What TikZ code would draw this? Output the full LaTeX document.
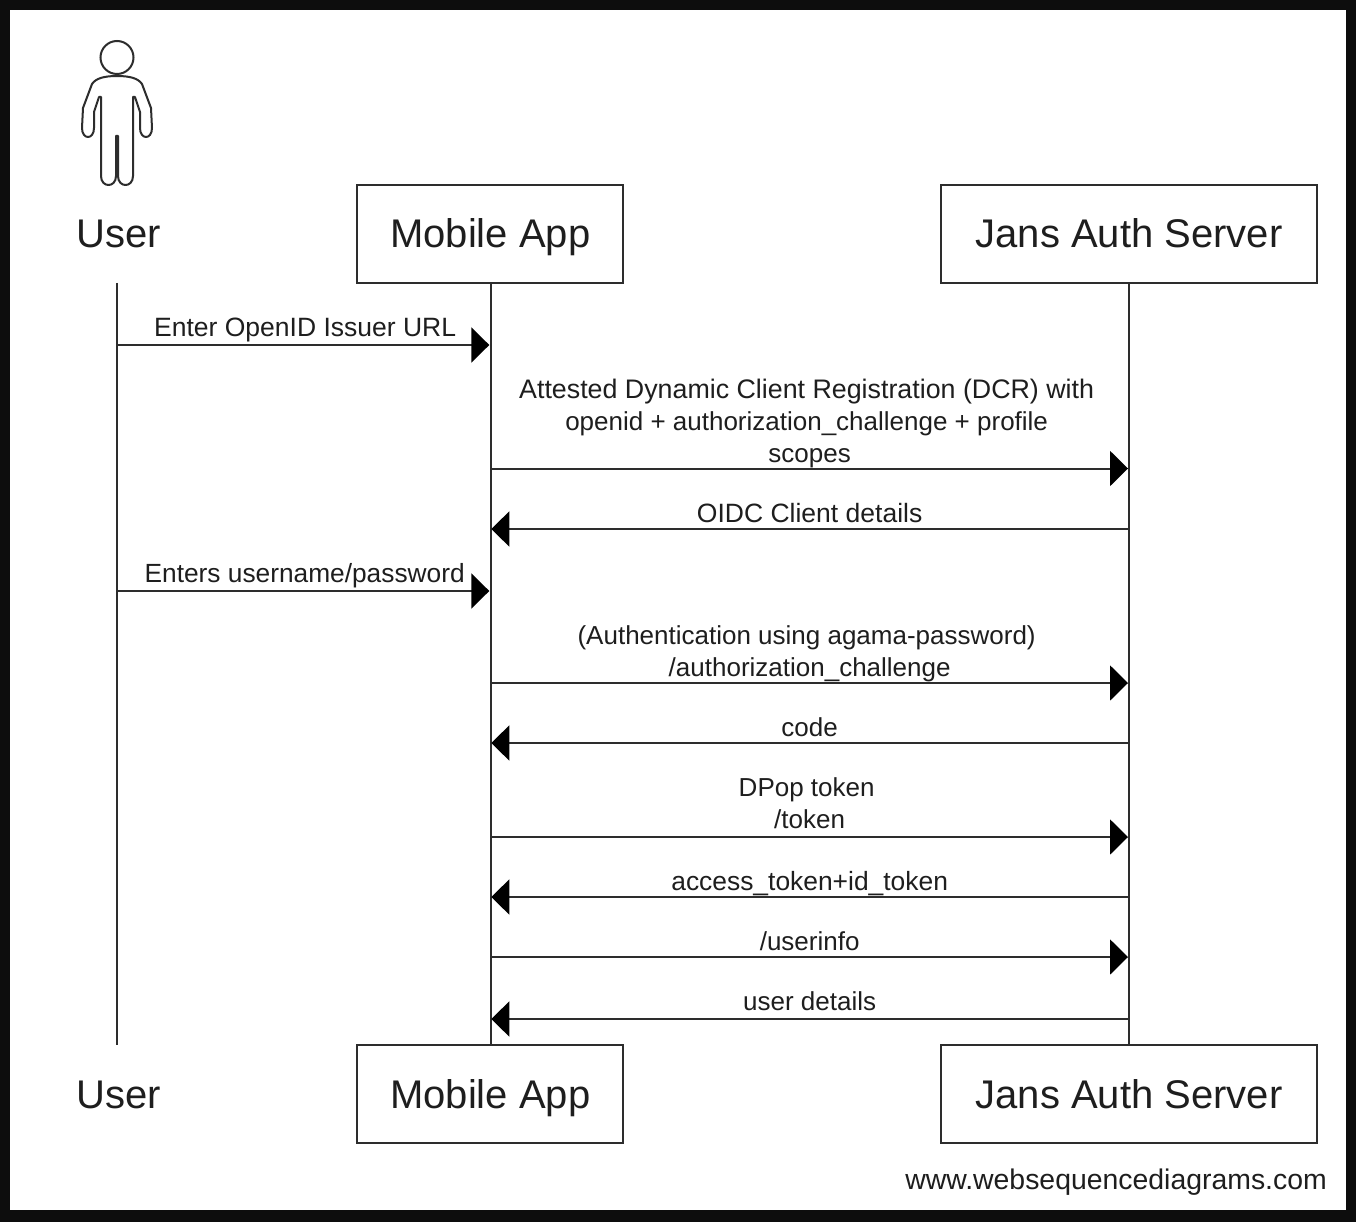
\documentclass[tikz,border=0pt]{standalone}
\usepackage{fontspec}
\setmainfont{Liberation Sans}
\usepackage{xcolor}
\usetikzlibrary{arrows.meta, positioning}
\definecolor{wsdline}{RGB}{45,45,45}
\definecolor{wsdtext}{RGB}{30,30,30}
\definecolor{wsdframe}{RGB}{13,13,13}
\newcommand{\wideline}{\fontsize{26.8}{32}\selectfont}
\tikzset{
  actorbox/.style  = {rectangle, draw=wsdline, line width=2pt, fill=white, text=wsdtext,
                      align=center, minimum height=98pt, outer sep=0pt, inner sep=0pt,
                      text height=33pt, text depth=5pt, font=\fontsize{40}{48}\selectfont},
  actorname/.style = {rectangle, text=wsdtext, align=center, minimum height=98pt,
                      outer sep=0pt, inner sep=0pt, text height=33pt, text depth=5pt,
                      font=\fontsize{40}{48}\selectfont},
  lifeline/.style  = {line width=2pt, draw=wsdline},
  flow/.style      = {-{Triangle[length=18pt, width=35pt, color=black]}, line width=2pt,
                      draw=wsdline, shorten >=1pt},
  flowlab/.style   = {font=\fontsize{26}{32}\selectfont, text=wsdtext, align=center,
                      anchor=south, inner sep=0pt, text depth=8pt},
  flowlow/.style   = {flowlab, text depth=6pt},
}

\begin{document}
\begin{tikzpicture}[x=1pt, y=-1pt]
  \useasboundingbox (0,0) rectangle (1356,1222);
  \fill[wsdframe] (0,0) rectangle (1356,1222);
  \fill[white] (10,10) rectangle (1346,1210);

  % top row
  \node[actorname] (userTop) at (117,234) {\kern3pt User};
  \node[actorbox, minimum width=266pt] (appTop) at (490.3,234) {Mobile App};
  \node[actorbox, minimum width=376pt, right=317.7pt of appTop] (serverTop) {Jans Auth Server};

  % bottom row
  \node[actorname, below=762pt of userTop] (userBot) {\kern3pt User};
  \node[actorbox, minimum width=266pt, below=762pt of appTop] (appBot) {Mobile App};
  \node[actorbox, minimum width=376pt, below=762pt of serverTop] (serverBot) {Jans Auth Server};

  % the user figure
  \draw[lifeline] (117,57.5) circle (16.5);
  \draw[lifeline, line join=round, fill=white]
    (117,76) .. controls (105,76) and (96,78) .. (92,84)
    -- (83,108) -- (82,128)
    .. controls (82,140) and (94,140) .. (94,128)
    -- (94,112) -- (99,97) -- (101,97) -- (101,176)
    .. controls (101,188) and (116,188) .. (116,176)
    -- (116,136) -- (118,136) -- (118,176)
    .. controls (118,188) and (133,188) .. (133,176)
    -- (133,97) -- (135,97) -- (140,112) -- (140,128)
    .. controls (140,140) and (152,140) .. (152,128)
    -- (151,108) -- (142,84)
    .. controls (138,78) and (129,76) .. (117,76) -- cycle;

  % lifelines
  \draw[lifeline] (userTop) -- (userBot);
  \draw[lifeline] ([xshift=.3pt]appTop.south) -- ([xshift=.3pt]appBot.north);
  \draw[lifeline] (serverTop) -- (serverBot);

  % message rows
  \coordinate (r1) at (0,345);
  \coordinate (r2) at (0,468.5);
  \coordinate (r3) at (0,529);
  \coordinate (r4) at (0,591);
  \coordinate (r5) at (0,683);
  \coordinate (r6) at (0,743);
  \coordinate (r7) at (0,837);
  \coordinate (r8) at (0,897);
  \coordinate (r9) at (0,957);
  \coordinate (r10) at (0,1019);

  \draw[flow] (userTop |- r1) -- node[flowlab, xshift=1.5pt] {\fontsize{26.5}{32}\selectfont Enter OpenID Issuer URL} (appTop |- r1);
  \draw[flow] (appTop |- r2) -- node[flowlow, text depth=5.5pt] {{\wideline Attested Dynamic Client Registration (DCR) with}\kern6pt\\openid + authorization\_challenge + profile\kern6pt\\scopes} (serverTop |- r2);
  \draw[flow] (serverTop |- r3) -- node[flowlow] {\fontsize{26.5}{32}\selectfont OIDC Client details} (appTop |- r3);
  \draw[flow] (userTop |- r4) -- node[flowlab, xshift=1pt] {\fontsize{26.3}{32}\selectfont Enters username/password} (appTop |- r4);
  \draw[flow] (appTop |- r5) -- node[flowlow] {(Authentication using agama-password)\kern6pt\\/authorization\_challenge} (serverTop |- r5);
  \draw[flow] (serverTop |- r6) -- node[flowlow] {code} (appTop |- r6);
  \draw[flow] (appTop |- r7) -- node[flowlab] {DPop token\kern6pt\\/token} (serverTop |- r7);
  \draw[flow] (serverTop |- r8) -- node[flowlow] {\fontsize{26.4}{32}\selectfont access\_token+id\_token} (appTop |- r8);
  \draw[flow] (appTop |- r9) -- node[flowlow] {/userinfo} (serverTop |- r9);
  \draw[flow] (serverTop |- r10) -- node[flowlab] {user details} (appTop |- r10);

  \node[font=\fontsize{28.4}{32}\selectfont, text=wsdtext, anchor=east, inner sep=0pt] (credit) at (1327,1182) {www.websequencediagrams.com};
\end{tikzpicture}
\end{document}
